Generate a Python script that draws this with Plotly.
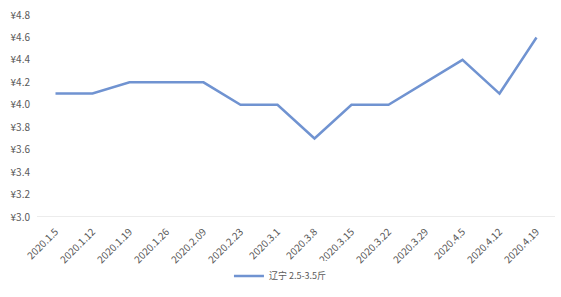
import plotly.graph_objects as go

dates = ["2020.1.5", "2020.1.12", "2020.1.19", "2020.1.26", "2020.2.09", "2020.2.23",
         "2020.3.1", "2020.3.8", "2020.3.15", "2020.3.22", "2020.3.29", "2020.4.5",
         "2020.4.12", "2020.4.19"]
prices = [4.1, 4.1, 4.2, 4.2, 4.2, 4.0, 4.0, 3.7, 4.0, 4.0, 4.2, 4.4, 4.1, 4.6]
series_name = "辽宁 2.5-3.5斤"
y_ticks = [3.0, 3.2, 3.4, 3.6, 3.8, 4.0, 4.2, 4.4, 4.6, 4.8]

fig = go.Figure()
fig.add_trace(go.Scatter(
    x=dates, y=prices, mode="lines", name=series_name,
    line=dict(color="#7093d1", width=2.5),
))

fig.update_layout(
    width=561, height=297,
    margin=dict(l=37, r=6, t=12, b=79),
    paper_bgcolor="white", plot_bgcolor="white",
    font=dict(family="Noto Sans CJK SC, DejaVu Sans, sans-serif", size=10, color="#595959"),
    showlegend=True,
    legend=dict(orientation="h", x=0.47, xanchor="center", y=-0.22, yanchor="top",
                font=dict(size=9, color="#595959")),
    xaxis=dict(type="category", tickangle=-45, showgrid=False, zeroline=False,
               range=[-0.5, len(dates) - 0.5], ticklabelstandoff=6,
               showline=False, ticks="", tickfont=dict(size=10, color="#595959")),
    yaxis=dict(range=[3.0, 4.8], tickvals=y_ticks,
               ticktext=["¥%.1f" % v for v in y_ticks],
               showgrid=False, zeroline=False, showline=False, ticks="",
               ticklabelstandoff=6,
               tickfont=dict(size=10, color="#595959")),
)
fig.add_shape(type="line", xref="paper", yref="y", x0=0, x1=1, y0=3.0, y1=3.0,
              line=dict(color="#d9d9d9", width=1), layer="below")

fig.write_html("out.html")
